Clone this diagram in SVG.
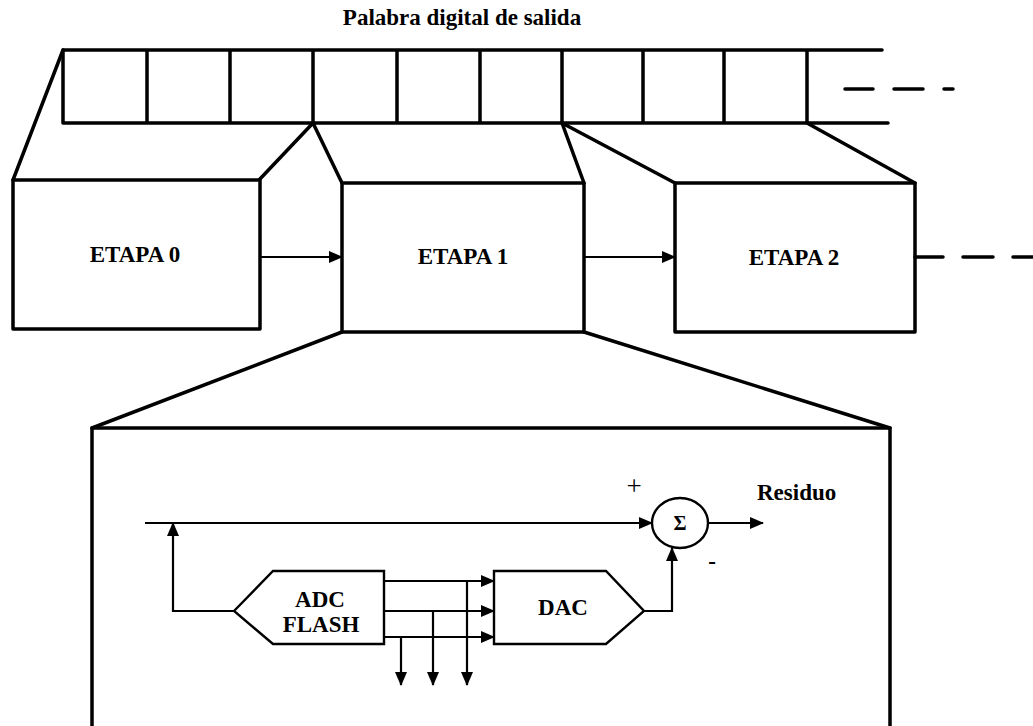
<svg xmlns="http://www.w3.org/2000/svg" width="1033" height="726" viewBox="0 0 1033 726">
<defs>
<style>
.thick{fill:none;stroke:#000;stroke-width:3.5;stroke-linecap:round;stroke-linejoin:round}
.box{fill:#fff;stroke:#000;stroke-width:3.5;stroke-linejoin:round}
.thin{fill:none;stroke:#000;stroke-width:2.2}
.shape{fill:#fff;stroke:#000;stroke-width:2.4;stroke-linejoin:miter}
.dash{fill:none;stroke:#000;stroke-width:3.5;stroke-linecap:round}
.lbl{font-family:'Liberation Serif','DejaVu Serif',serif;font-weight:bold;font-size:23px;fill:#000}
.pm{font-family:'Liberation Serif','DejaVu Serif',serif;font-size:27px;fill:#000}
</style>
<marker id="ah" markerUnits="userSpaceOnUse" markerWidth="14" markerHeight="12" refX="13" refY="6" orient="auto">
<path d="M0,0 L14,6 L0,12 Z" fill="#000"/>
</marker>
</defs>
<rect width="1033" height="726" fill="#fff"/>
<text class="lbl" x="462" y="25" text-anchor="middle">Palabra digital de salida</text>
<g id="register">
<path class="thick" d="M63,50 H882 M63,123 H888 M63,50 V123 M147,50 V123 M230,50 V123 M313,50 V123 M397,50 V123 M480,50 V123 M562,50 V123 M643,50 V123 M724,50 V123 M807,50 V123"/>
<path class="dash" d="M845,89 H873 M894,89 H923 M944,89 H953"/>
</g>
<g id="fans">
<path class="thick" d="M63,50 L13,180 M313,123 L259,180 M313,123 L342,183 M562,123 L584,183 M562,123 L675,183 M807,123 L915,183 M342,332 L92,428 M584,332 L890,428"/>
</g>
<g id="etapa0">
<rect class="box" x="13" y="180" width="247" height="149"/>
<text class="lbl" x="135" y="262" text-anchor="middle">ETAPA 0</text>
</g>
<g id="etapa1">
<rect class="box" x="342" y="183" width="242" height="149"/>
<text class="lbl" x="463" y="264" text-anchor="middle">ETAPA 1</text>
</g>
<g id="etapa2">
<rect class="box" x="675" y="183" width="240" height="149"/>
<text class="lbl" x="794" y="265" text-anchor="middle">ETAPA 2</text>
</g>
<g id="detail">
<path class="thick" d="M92,726 V428 H890 V726"/>
</g>
<g id="adc">
<polygon class="shape" points="234,611 273,571 384,571 384,644 273,644"/>
<text class="lbl" x="320" y="607" text-anchor="middle">ADC</text>
<text class="lbl" x="321" y="632" text-anchor="middle">FLASH</text>
</g>
<g id="dac">
<polygon class="shape" points="494,571 606,571 644,611 606,644 494,644"/>
<text class="lbl" x="563" y="615" text-anchor="middle">DAC</text>
</g>
<g id="sum">
<ellipse cx="680" cy="523" rx="28" ry="25" fill="#fff" stroke="#000" stroke-width="2.4"/>
<text class="lbl" x="680" y="530" text-anchor="middle" style="font-size:20px">Σ</text>
<text class="pm" x="634" y="495" text-anchor="middle">+</text>
<text class="lbl" x="712" y="569" text-anchor="middle">-</text>
<text class="lbl" x="757" y="500">Residuo</text>
</g>
<g id="connectors">
<path class="thin" d="M260,257 H342" marker-end="url(#ah)"/>
<path class="thin" d="M584,257 H675" marker-end="url(#ah)"/>
<path class="dash" d="M915,257 H943 M963,257 H993 M1013,257 H1040"/>
<path class="thin" d="M145,523 H652" marker-end="url(#ah)"/>
<path class="thin" d="M234,611 H173 V523" marker-end="url(#ah)"/>
<path class="thin" d="M384,581 H494" marker-end="url(#ah)"/>
<path class="thin" d="M384,611 H494" marker-end="url(#ah)"/>
<path class="thin" d="M384,637 H494" marker-end="url(#ah)"/>
<path class="thin" d="M401,637 V685" marker-end="url(#ah)"/>
<path class="thin" d="M433,611 V685" marker-end="url(#ah)"/>
<path class="thin" d="M467,581 V685" marker-end="url(#ah)"/>
<path class="thin" d="M644,611 H672 V548" marker-end="url(#ah)"/>
<path class="thin" d="M708,523 H763" marker-end="url(#ah)"/>
</g>
</svg>
